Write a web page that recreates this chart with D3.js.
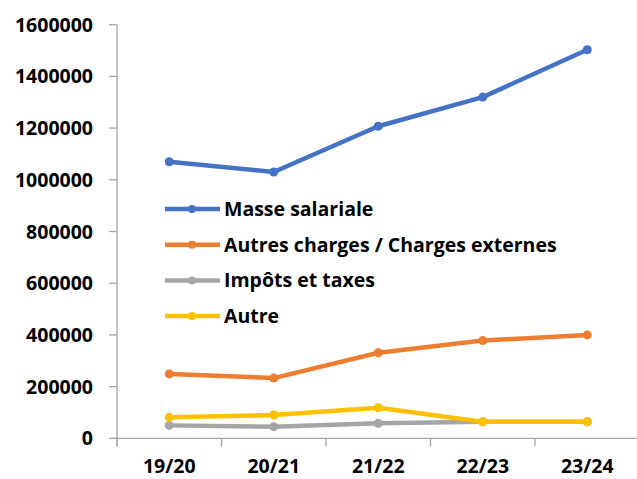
<!DOCTYPE html>
<html>
<head>
<meta charset="utf-8">
<script src="https://cdn.jsdelivr.net/npm/d3@7"></script>
<style>
  body { margin: 0; background: #fff; }
  text { font-family: "Open Sans", Lato, sans-serif; font-weight: bold; fill: #000; }
</style>
</head>
<body>
<script>
// années
const years = ["19/20", "20/21", "21/22", "22/23", "23/24"];
// séries
const masseSalariale = [1070000, 1030000, 1207000, 1320000, 1503000];
const autresCharges = [249000, 233000, 331000, 378000, 400000];
const impotsTaxes = [50000, 45000, 58000, 64000, 64000];
const autre = [81000, 90000, 118000, 64000, 64000];
const yTicks = [0, 200000, 400000, 600000, 800000, 1000000, 1200000, 1400000, 1600000];

const series = [
  {name: "Masse salariale", values: masseSalariale, color: "#4472C4"},
  {name: "Autres charges / Charges externes", values: autresCharges, color: "#ED7D31"},
  {name: "Impôts et taxes", values: impotsTaxes, color: "#A5A5A5"},
  {name: "Autre", values: autre, color: "#FFC000"}
];

const width = 637, height = 479;
const plotLeft = 117, plotRight = 639.5, plotTop = 24.7, plotBottom = 438.3;

const svg = d3.select("body").append("svg")
  .attr("width", width)
  .attr("height", height);

const x = d3.scaleBand().domain(years).range([plotLeft, plotRight]);
const y = d3.scaleLinear().domain([0, 1600000]).range([plotBottom, plotTop]);

const axisColor = "#A6A6A6";

// axe Y
svg.append("line")
  .attr("x1", plotLeft).attr("x2", plotLeft)
  .attr("y1", y(1600000)).attr("y2", plotBottom + 8)
  .attr("stroke", axisColor).attr("stroke-width", 1.3);
svg.selectAll(".ytick").data(yTicks).enter().append("line")
  .attr("x1", plotLeft - 8).attr("x2", plotLeft)
  .attr("y1", d => y(d)).attr("y2", d => y(d))
  .attr("stroke", axisColor).attr("stroke-width", 1.3);
svg.selectAll(".ylab").data(yTicks).enter().append("text")
  .attr("x", 93).attr("y", d => y(d))
  .attr("dy", "0.36em")
  .attr("text-anchor", "end")
  .attr("font-size", 19.5)
  .text(d => d);

// axe X
svg.append("line")
  .attr("x1", plotLeft).attr("x2", plotRight)
  .attr("y1", plotBottom).attr("y2", plotBottom)
  .attr("stroke", axisColor).attr("stroke-width", 1.3);
svg.selectAll(".xtick").data(years).enter().append("line")
  .attr("x1", d => x(d)).attr("x2", d => x(d))
  .attr("y1", plotBottom).attr("y2", plotBottom + 8)
  .attr("stroke", axisColor).attr("stroke-width", 1.3);
svg.selectAll(".xlab").data(years).enter().append("text")
  .attr("x", d => x(d) + x.bandwidth() / 2).attr("y", 473)
  .attr("text-anchor", "middle")
  .attr("font-size", 19.5)
  .text(d => d);

// courbes
const line = d3.line()
  .x((d, i) => x(years[i]) + x.bandwidth() / 2)
  .y(d => y(d));

series.forEach(s => {
  svg.append("path")
    .attr("d", line(s.values))
    .attr("fill", "none")
    .attr("stroke", s.color)
    .attr("stroke-width", 4.5)
    .attr("stroke-linejoin", "round");
  svg.selectAll(null).data(s.values).enter().append("circle")
    .attr("cx", (d, i) => x(years[i]) + x.bandwidth() / 2)
    .attr("cy", d => y(d))
    .attr("r", 4.5)
    .attr("fill", s.color);
});

// légende
const legend = svg.append("g");
series.forEach((s, i) => {
  const ly = 209 + i * 35.7;
  legend.append("line")
    .attr("x1", 165).attr("x2", 220)
    .attr("y1", ly).attr("y2", ly)
    .attr("stroke", s.color).attr("stroke-width", 4.5);
  legend.append("circle")
    .attr("cx", 192).attr("cy", ly).attr("r", 4)
    .attr("fill", s.color);
  legend.append("text")
    .attr("x", 224).attr("y", ly)
    .attr("dy", "0.36em")
    .attr("font-size", 19.5)
    .text(s.name);
});
</script>
</body>
</html>
